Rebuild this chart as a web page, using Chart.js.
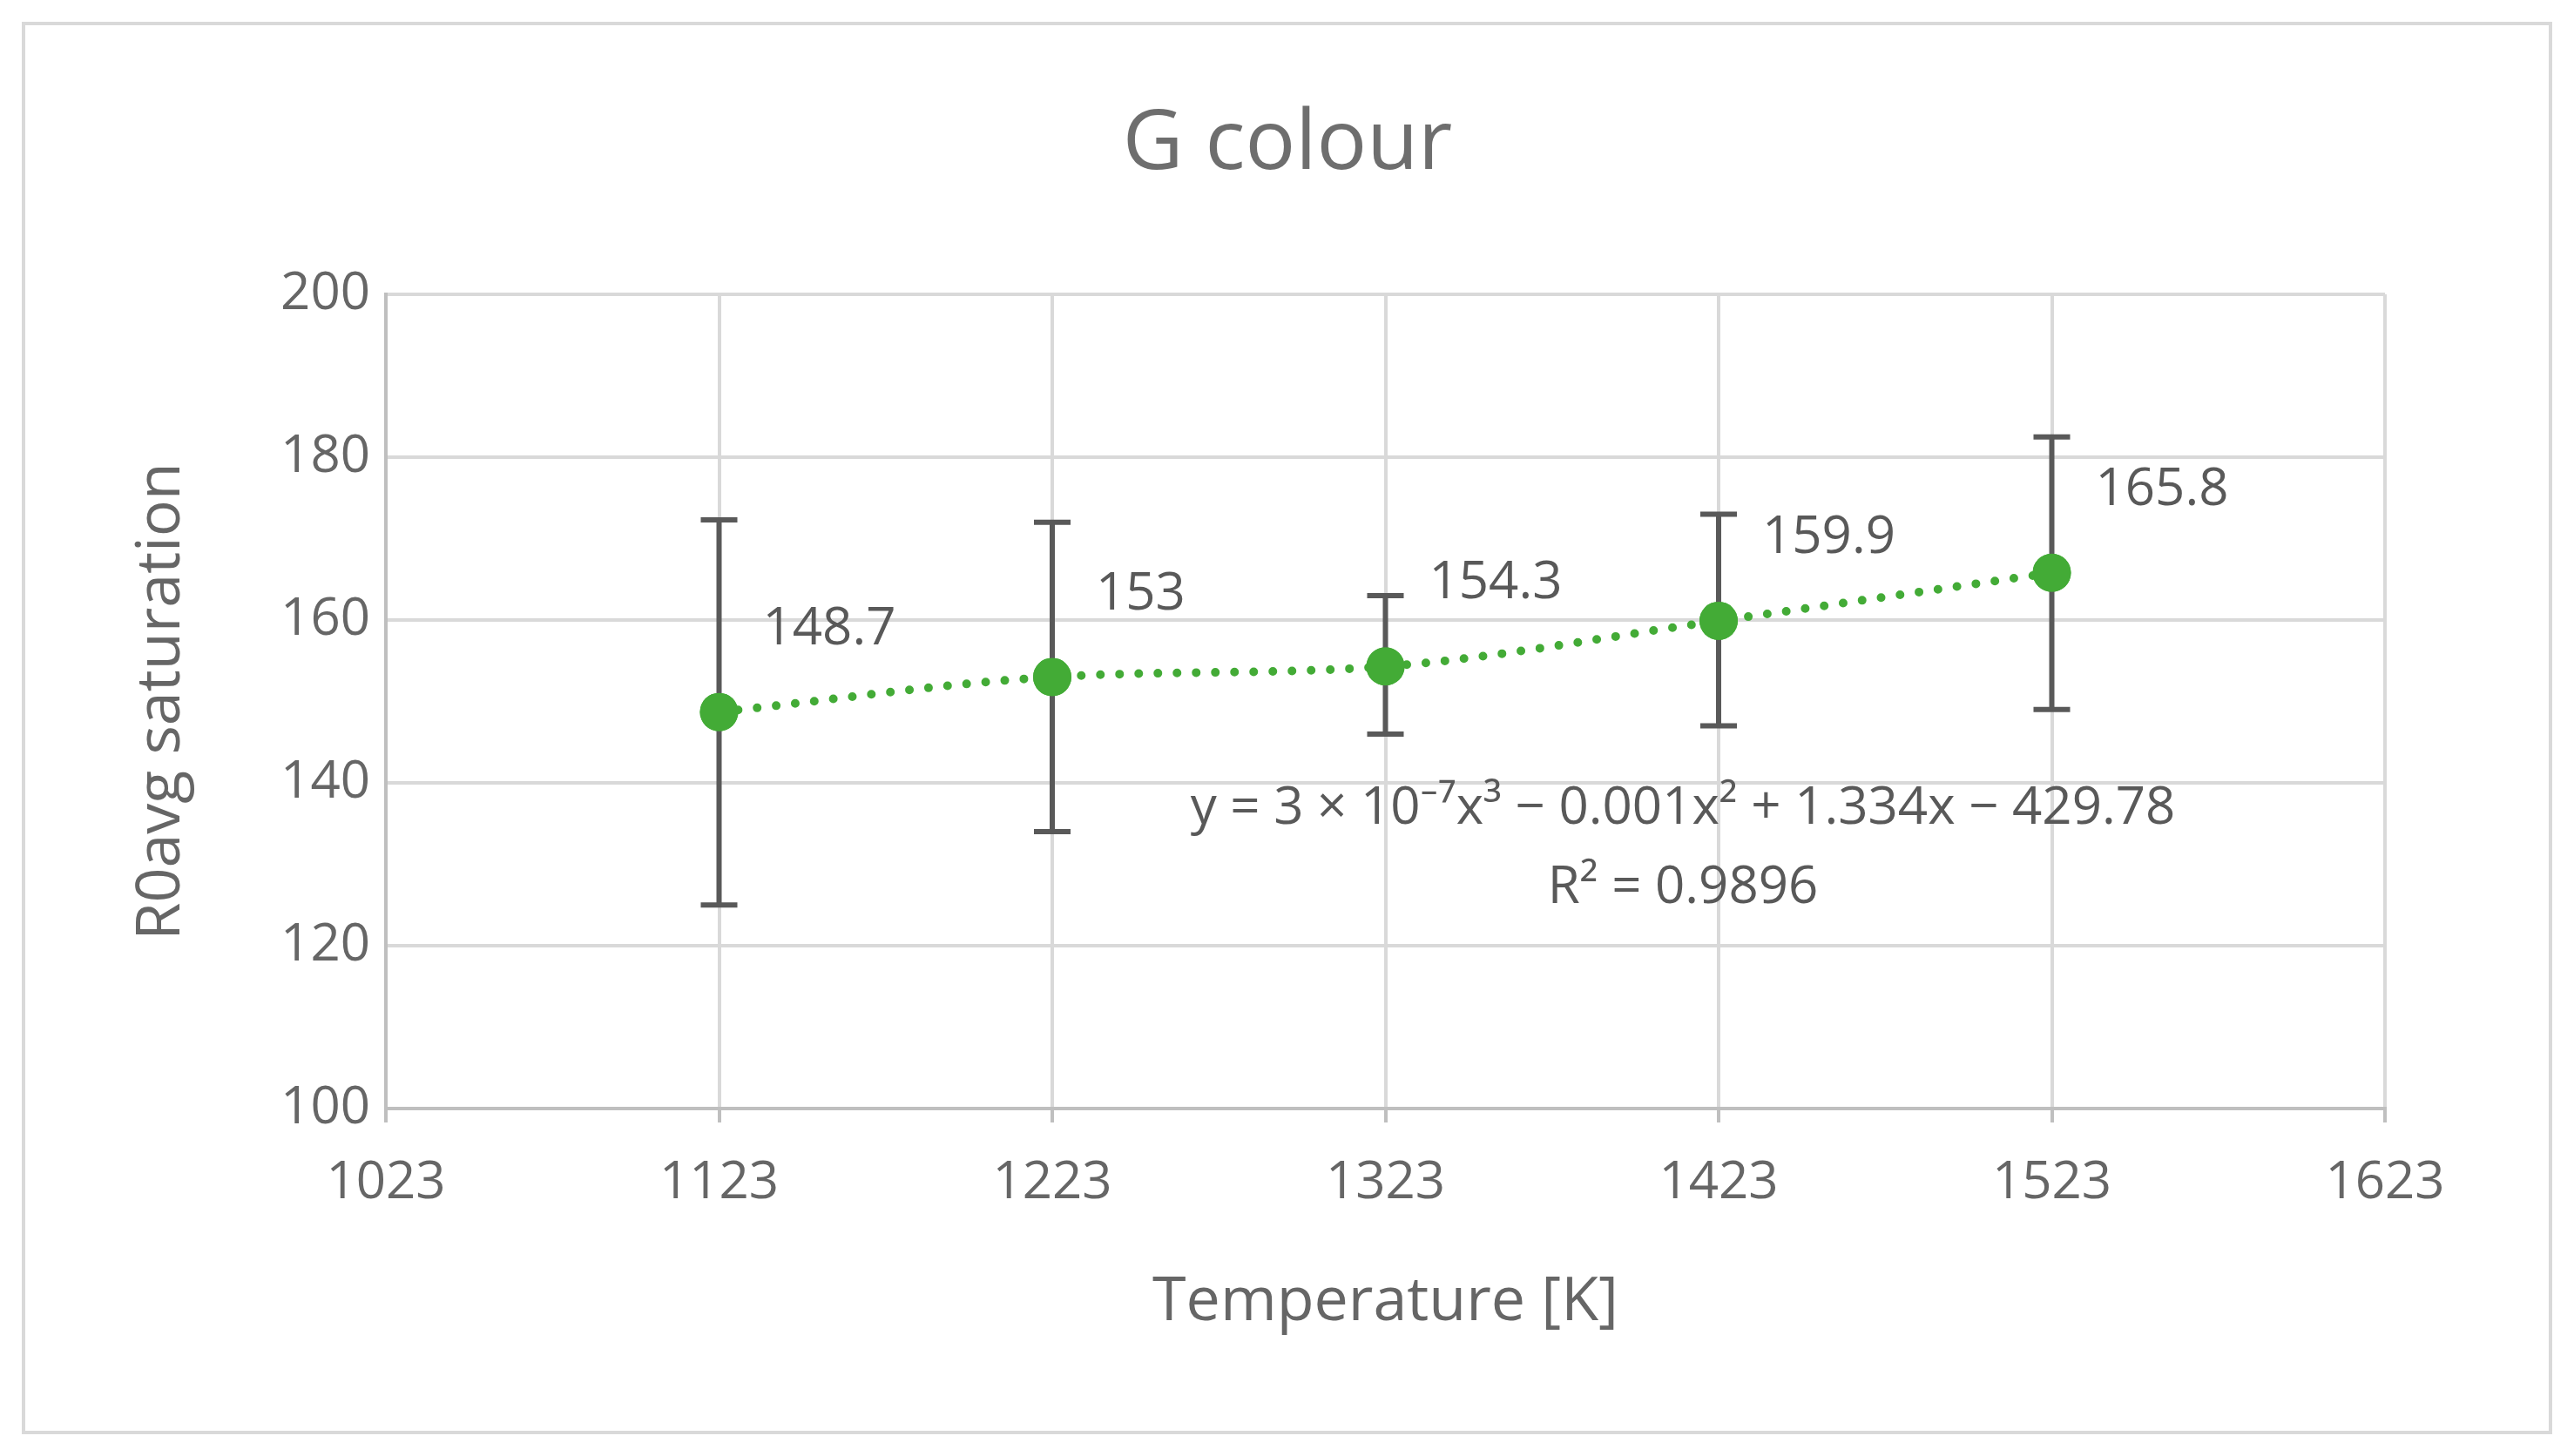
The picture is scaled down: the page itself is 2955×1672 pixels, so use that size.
<!DOCTYPE html>
<html><head><meta charset="utf-8">
<script src="https://cdn.jsdelivr.net/npm/chart.js@4"></script>
<style>html,body{margin:0;padding:0;background:#fff}#w{position:absolute;left:0;top:0;width:2955px;height:1672px}</style>
</head><body><div id="w"><canvas id="c" width="2955" height="1672"></canvas></div>
<script>
const temperatures = [1123, 1223, 1323, 1423, 1523];
const r0avg = [148.7, 153, 154.3, 159.9, 165.8];
const errLow = [125, 134, 146, 147, 149];
const errHigh = [172.3, 172, 163, 173, 182.5];
const xTicks = [1023, 1123, 1223, 1323, 1423, 1523, 1623];
const yTicks = [100, 120, 140, 160, 180, 200];
const titleText = 'G colour';
const equationText = 'y = 3 × 10⁻⁷x³ − 0.001x² + 1.334x − 429.78';
const r2Text = 'R² = 0.9896';

const FONT = '"Open Sans", "Noto Sans", sans-serif';
const pts = temperatures.map((t,i)=>({x:t,y:r0avg[i]}));

const deco = {
  id:'deco',
  beforeDraw(c){
    const ctx=c.ctx; ctx.save();
    ctx.fillStyle='#fff'; ctx.fillRect(0,0,c.width,c.height);
    ctx.strokeStyle='#d9d9d9'; ctx.lineWidth=4;
    ctx.strokeRect(27,27,2901,1618);
    ctx.restore();
  },
  afterDatasetsDraw(c){
    const ctx=c.ctx, xs=c.scales.x, ys=c.scales.y;
    ctx.save();
    ctx.strokeStyle='#595959'; ctx.lineWidth=6;
    temperatures.forEach((t,i)=>{
      const x=xs.getPixelForValue(t), y1=ys.getPixelForValue(errLow[i]), y2=ys.getPixelForValue(errHigh[i]);
      ctx.beginPath();
      ctx.moveTo(x,y1);ctx.lineTo(x,y2);
      ctx.moveTo(x-21,y1);ctx.lineTo(x+21,y1);
      ctx.moveTo(x-21,y2);ctx.lineTo(x+21,y2);
      ctx.stroke();
    });
    const meta=c.getDatasetMeta(1);
    ctx.fillStyle='#43ab36';
    meta.data.forEach(p=>{ctx.beginPath();ctx.arc(p.x,p.y,22,0,Math.PI*2);ctx.fill();});
    ctx.fillStyle='#595959'; ctx.font='60px '+FONT; ctx.textBaseline='middle'; ctx.textAlign='left';
    temperatures.forEach((t,i)=>{
      ctx.fillText(String(r0avg[i]), xs.getPixelForValue(t)+50, ys.getPixelForValue(r0avg[i])-95);
    });
    ctx.textAlign='center';
    ctx.fillText(equationText,1932,929);
    ctx.fillText(r2Text,1932,1020);
    ctx.fillStyle='#6e6e6e'; ctx.font='96px '+FONT;
    ctx.fillText(titleText,1478,167);
    ctx.restore();
  }
};

new Chart(document.getElementById('c'),{
  type:'scatter',
  data:{datasets:[
    {data:pts,showLine:true,borderColor:'#43ab36',borderWidth:10,borderDash:[0,22],borderCapStyle:'round',cubicInterpolationMode:'monotone',pointRadius:0,fill:false},
    {data:pts,showLine:false,pointRadius:22,pointBackgroundColor:'#43ab36',pointBorderWidth:0}
  ]},
  plugins:[deco],
  options:{
    responsive:false,animation:false,devicePixelRatio:1,
    layout:{padding:{left:140,top:338,right:217,bottom:130}},
    plugins:{legend:{display:false},tooltip:{enabled:false},title:{display:false}},
    scales:{
      x:{type:'linear',min:1023,max:1623,
        afterBuildTicks:s=>{s.ticks=xTicks.map(v=>({value:v}));},
        afterFit:s=>{s.height=269;},
        grid:{color:'#d9d9d9',lineWidth:4,tickLength:16,tickColor:'#bfbfbf'},
        border:{color:'#bfbfbf',width:4},
        ticks:{color:'#666',font:{size:60,family:FONT},padding:34,callback:v=>String(v)},
        title:{display:true,text:'Temperature [K]',color:'#666',font:{size:70,family:FONT},padding:{top:10}}},
      y:{min:100,max:200,
        afterBuildTicks:s=>{s.ticks=yTicks.map(v=>({value:v}));},
        afterFit:s=>{s.width=303;},
        grid:{color:'#d9d9d9',lineWidth:4,tickLength:0},
        border:{color:'#bfbfbf',width:4},
        ticks:{color:'#666',font:{size:60,family:FONT},padding:18,callback:v=>String(v)},
        title:{display:true,text:'R0avg saturation',color:'#666',font:{size:70,family:FONT},padding:{bottom:10}}}
    }
  }
});
</script></body></html>
